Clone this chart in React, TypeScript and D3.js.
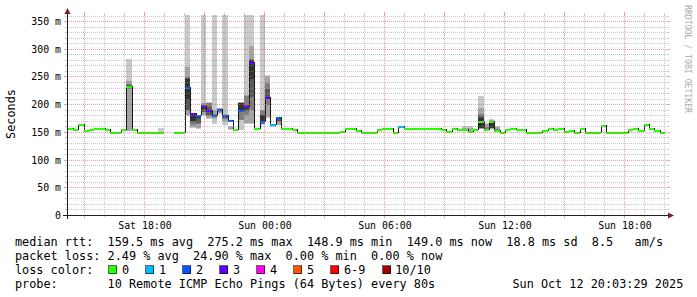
import React from "react";
import * as d3 from "d3";

const WIDTH = 697;
const HEIGHT = 297;

// time axis in hours after Sat 00:00
const VIEW_START_H = 14.125;
const VIEW_END_H = 44.125;
const FIRST_STEP_H = 13.892;
const STEP_H = 16 / 60;

const Y_MAX = 361;
const yTicks = [0, 50, 100, 150, 200, 250, 300, 350];
const yTickLabels = ["0", "50 m", "100 m", "150 m", "200 m", "250 m", "300 m", "350 m"];

const xLabelHours = [18, 24, 30, 36, 42];
const xLabels = ["Sat 18:00", "Sun 00:00", "Sun 06:00", "Sun 12:00", "Sun 18:00"];

// median rtt per 16-minute step (ms), null = no data
const medianRtt: (number | null)[] = [
  156.7, 156.7, 154.6, 163.4, 152, 154.6, 156.4, 156.4, 154.3, 149.2,
  149.2, 154.3, 232, 154.3, 149, 149, 149, 149, 149, null,
  null, 149, 149, 229.6, 182.7, 179, 195.3, 188.6, 179.5, 191,
  179, 170, 154, 188.6, 195, 275, 156.7, 168, 211.5, 164,
  175.4, 156.7, 156.5, 153.5, 149, 149, 149, 149, 149, 149,
  149, 149, 150.7, 156, 156, 152.5, 149, 149, 149, 153.7,
  156, 156, 149, 159, 156.5, 156.5, 156.5, 156.5, 156.5, 156.5,
  156.5, 154, 150, 156.3, 154, 154, 151.5, 154, 169.5, 154.3,
  169.3, 152, 149.3, 154, 156.3, 154, 154, 149.3, 149.3, 149.3,
  152.5, 156, 153.7, 156, 150.7, 152.5, 149.5, 155.5, 149.5, 149.5,
  149.5, 162, 149.5, 149.5, 149.5, 149.5, 154.7, 156.7, 152, 164,
  156.7, 152, 149.5, null,
];

// steps with packet loss (number of lost pings out of 10)
const lossSteps = [23, 24, 25, 26, 27, 28, 29, 30, 31, 33, 34, 35, 37, 38, 39, 40, 63];
const lossValues = [2, 3, 2, 3, 3, 2, 2, 2, 2, 2, 3, 3, 2, 3, 1, 2, 1];

// smoke: sorted ping times (ms) for steps with visible spread; Infinity = above graph
const INF = Infinity;
const smokeSteps = [12, 18, 23, 24, 25, 26, 27, 28, 29, 30, 31, 33, 34, 35, 37, 38, 39, 40, 75, 76, 78, 79, 80, 81];
const smokePings: number[][] = [
  [152, 153, 229, 230, 231, 233, 235, 238, 243, 283],
  [149, 149, 149, 149, 149, 149, 149, 149, 149, 158],
  [180, 181, 188, 190, 208, 247, 248, 250, 268, INF],
  [158, 160, 163, 169, 170, 181, 182, 183, 184, 185],
  [157, 158, 166, 166.5, 176, 177, 178, 179, 180, 181],
  [181, 182, 186, 187, 193, 196, 199, 200, 203, INF],
  [174, 176, 180, 181, 186, 190, 196, 203, 203.5, 204],
  [166, 175, 177, 178, 179, 181, 182, 183, 190, INF],
  [184, 185, 187, 188, 189, 191, 192, 193, 193.5, 194],
  [163, 170, 174, 176, 177, 179, 180, 181, 183, INF],
  [154, 156, 158, 158, 158, 158, 158, 158, 160, 161],
  [154, 172, 173, 186, 190, 202.5, 203, 203.5, 204, 204.5],
  [166, 167, 181, 188, 193, 196, 200, 216, 217, INF],
  [166, 167, 190, 214, 247, 280, 281, 282, 306, INF],
  [164, 165, 166, 167, 171, 181, 182, 190, 191, INF],
  [176, 178, 200, 210, 212, 214, 228, 240, 250, 254],
  [159, 160, 160, 160, 160, 160, 160, 160, 160, 161],
  [163, 164, 168, 170, 172, 173, 174, 175, 176, 177],
  [153, 154, 154.5, 154.5, 154.5, 154.5, 154.5, 154.5, 158, 161],
  [151, 152, 152.5, 152.5, 152.5, 152.5, 152.5, 152.5, 158, 161],
  [156, 157, 157.5, 158, 158.5, 176, 180, 184, 194, 216],
  [154, 155, 156, 157, 157, 157, 157, 160, 165, 167.5],
  [156, 157, 157.5, 158, 158.5, 168, 170, 171, 173, 174],
  [151, 152, 153, 154, 154, 154, 154, 157, 160, 161.5],
];

const smokeColors = ["#cacaca", "#a4a4a4", "#7e7e7e", "#585858", "#323232"];
const lossLabels = ["0", "1", "2", "3", "4", "5", "6-9", "10/10"];
const lossColors = ["#26ff00", "#00b8ff", "#0059ff", "#5e00ff", "#ff00ea", "#ff5500", "#ff0000", "#a10000"];

const legendLines = [
  "median rtt:  159.5 ms avg  275.2 ms max  148.9 ms min  149.0 ms now  18.8 ms sd  8.5   am/s",
  "packet loss: 2.49 % avg  24.90 % max  0.00 % min  0.00 % now",
  "loss color:",
  "probe:       10 Remote ICMP Echo Pings (64 Bytes) every 80s",
];
const dateStamp = "Sun Oct 12 20:03:29 2025";

const MONO = "'DejaVu Sans Mono', monospace";
const LEG_FS = 11.83;
const CHAR_W = 7.12;
const LEG_X = 15;

function lossIndex(loss: number) {
  if (loss <= 5) return loss;
  if (loss < 10) return 6;
  return 7;
}

export default function App() {
  const x = d3.scaleLinear().domain([VIEW_START_H, VIEW_END_H]).range([67, 667]);
  const y = d3.scaleLinear().domain([0, Y_MAX]).range([215.5, 15.5]);
  const yc = (v: number) => (isFinite(v) ? Math.max(15, y(v)) : 15);
  const sx = (i: number) => Math.round(Math.max(67, x(FIRST_STEP_H + i * STEP_H)));
  const ex = (i: number) => Math.round(Math.min(667, x(FIRST_STEP_H + (i + 1) * STEP_H)));

  const lossOf = (i: number) => {
    const k = lossSteps.indexOf(i);
    return k >= 0 ? lossValues[k] : 0;
  };

  // smoke rects
  const smokeRects: JSX.Element[] = [];
  smokeSteps.forEach((s, si) => {
    const p = smokePings[si];
    for (let b = 0; b < 5; b++) {
      const lo = p[b];
      const hi = p[9 - b];
      const top = Math.round(yc(hi));
      const bot = Math.round(yc(lo));
      if (bot - top <= 0) continue;
      smokeRects.push(
        <rect key={`s${s}-${b}`} x={sx(s)} width={ex(s) - sx(s)} y={top} height={bot - top}
          fill={smokeColors[b]} shapeRendering="crispEdges" />
      );
    }
  });

  // median line points
  const pts: ([number, number] | null)[] = [];
  medianRtt.forEach((m, i) => {
    if (m === null) { pts.push(null); return; }
    const yy = Math.round(y(m)) - 0.5;
    pts.push([sx(i), yy]);
    pts.push([ex(i), yy]);
  });
  const lineGen = d3.line<[number, number] | null>()
    .defined((d) => d !== null)
    .x((d) => (d as [number, number])[0])
    .y((d) => (d as [number, number])[1]);
  const medianPath = lineGen(pts) || "";

  const lossRects = medianRtt.map((m, i) => {
    if (m === null) return null;
    const yy = Math.round(y(m));
    return (
      <rect key={`l${i}`} x={sx(i)} width={ex(i) - sx(i)} y={yy - 1} height={2}
        fill={lossColors[lossIndex(lossOf(i))]} shapeRendering="crispEdges" />
    );
  });

  // grid
  const minorY = d3.range(10, 361, 10).filter((v) => v % 50 !== 0);
  const majorY = yTicks.filter((v) => v > 0);
  const minorX = d3.range(15, 45).filter((h) => h % 3 !== 0);
  const majorX = d3.range(15, 45).filter((h) => h % 3 === 0);
  const gy = (v: number) => Math.floor(y(v)) + 0.5;
  const GRID = "rgba(143,143,143,0.5)";
  const MGRID = "rgba(222,79,79,0.55)";

  // legend items
  let lx = 108.3;
  const legendItems = lossLabels.map((lab, i) => {
    const cx = lx;
    lx += 37 + (lab.length - 1) * CHAR_W;
    return (
      <g key={`lg${i}`}>
        <rect x={Math.round(cx) + 0.5} y={265.5} width={8} height={8} fill={lossColors[i]}
          stroke="#000" strokeOpacity={0.6} strokeWidth={1} shapeRendering="crispEdges" />
        <text x={cx + 13.7} y={273.5} fontFamily={MONO} fontSize={LEG_FS} fill="#000">{lab}</text>
      </g>
    );
  });

  return (
    <div style={{ position: "fixed", left: 0, top: 0 }}>
      <svg width={WIDTH} height={HEIGHT} viewBox={`0 0 ${WIDTH} ${HEIGHT}`} style={{ display: "block", background: "#fff" }}>
        <rect x={0} y={0} width={WIDTH} height={HEIGHT} fill="#fff" />
        {smokeRects}
        <path d={medianPath} fill="none" stroke="#1a1a1a" strokeWidth={1} shapeRendering="crispEdges" />
        {lossRects}

        {/* grid */}
        {minorY.map((v) => (
          <g key={`gy${v}`} shapeRendering="crispEdges">
            <line x1={67} x2={667} y1={gy(v)} y2={gy(v)} stroke={GRID} strokeDasharray="1 1" />
            <line x1={65} x2={67} y1={gy(v)} y2={gy(v)} stroke={GRID} />
            <line x1={667} x2={669} y1={gy(v)} y2={gy(v)} stroke={GRID} />
          </g>
        ))}
        {minorX.map((h) => (
          <g key={`gx${h}`} shapeRendering="crispEdges">
            <line x1={x(h)} x2={x(h)} y1={15} y2={215} stroke={GRID} strokeDasharray="1 1" />
            <line x1={x(h)} x2={x(h)} y1={215} y2={217} stroke={GRID} />
            <line x1={x(h)} x2={x(h)} y1={13} y2={15} stroke={GRID} />
          </g>
        ))}
        {majorY.map((v) => (
          <g key={`my${v}`} shapeRendering="crispEdges">
            <line x1={67} x2={667} y1={gy(v)} y2={gy(v)} stroke={MGRID} strokeDasharray="1 1" />
            <line x1={64} x2={67} y1={gy(v)} y2={gy(v)} stroke={MGRID} />
            <line x1={667} x2={670} y1={gy(v)} y2={gy(v)} stroke={MGRID} />
          </g>
        ))}
        {majorX.map((h) => (
          <g key={`mx${h}`} shapeRendering="crispEdges">
            <line x1={x(h)} x2={x(h)} y1={15} y2={215} stroke={MGRID} strokeDasharray="1 1" />
            <line x1={x(h)} x2={x(h)} y1={215} y2={218} stroke={MGRID} />
            <line x1={x(h)} x2={x(h)} y1={12} y2={15} stroke={MGRID} />
          </g>
        ))}

        {/* axes */}
        <line x1={63} x2={668} y1={215.5} y2={215.5} stroke="#1f1f1f" shapeRendering="crispEdges" />
        <line x1={67.5} x2={67.5} y1={219} y2={13} stroke="#1f1f1f" shapeRendering="crispEdges" />
        <path d="M668,212.5 L668,218.5 L674,215.5 Z" fill="#801f1f" />
        <path d="M64.5,14 L70.5,14 L67.5,8 Z" fill="#801f1f" />

        {/* y labels */}
        {yTicks.map((v, i) => (
          <text key={`yl${v}`} x={61} y={gy(v) + 3.6} textAnchor="end" fontFamily={MONO} fontSize={9.9} fill="#000">
            {yTickLabels[i]}
          </text>
        ))}
        {/* x labels */}
        {xLabelHours.map((h, i) => (
          <text key={`xl${h}`} x={x(h) + 0.5} y={228.5} textAnchor="middle" fontFamily={MONO} fontSize={9.9} fill="#000">
            {xLabels[i]}
          </text>
        ))}

        <text transform="translate(15,114) rotate(-90)" textAnchor="middle" fontFamily={MONO} fontSize={LEG_FS} fill="#000">
          Seconds
        </text>
        <text transform="translate(685,5) rotate(90)" fontFamily={MONO} fontSize={8.16} fill="#aaaaaa">
          RRDTOOL / TOBI OETIKER
        </text>

        {/* legend */}
        {legendLines.map((t, i) => (
          <text key={`ll${i}`} x={LEG_X} y={245.5 + i * 14} fontFamily={MONO} fontSize={LEG_FS} fill="#000"
            xmlSpace="preserve" style={{ whiteSpace: "pre" }}>
            {t}
          </text>
        ))}
        {legendItems}
        <text x={LEG_X + 70 * CHAR_W - 1} y={287.5} fontFamily={MONO} fontSize={LEG_FS} fill="#000"
          xmlSpace="preserve" style={{ whiteSpace: "pre" }}>
          {dateStamp}
        </text>
      </svg>
    </div>
  );
}
